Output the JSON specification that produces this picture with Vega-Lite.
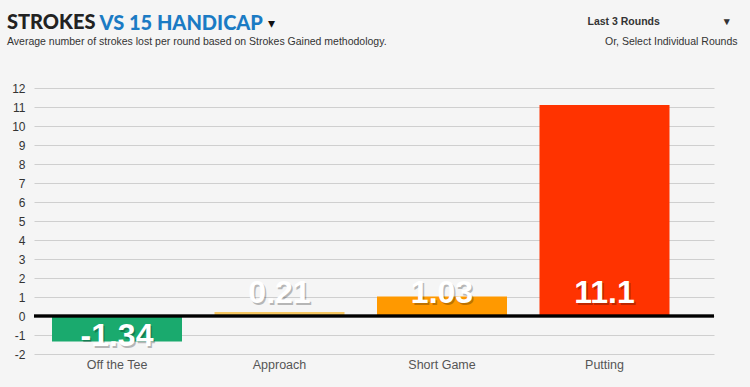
{
  "$schema": "https://vega.github.io/schema/vega-lite/v6.json",
  "width": 680,
  "height": 266,
  "autosize": {"type": "none"},
  "padding": {"left": 34, "top": 88, "right": 36, "bottom": 33},
  "background": "#f5f5f5",
  "config": {
    "view": {"stroke": null},
    "font": "Liberation Sans"
  },
  "title": {
    "text": "STROKES",
    "subtitle": "Average number of strokes lost per round based on Strokes Gained methodology.",
    "anchor": "start",
    "frame": "group",
    "dx": -27,
    "dy": 34,
    "font": "Lato",
    "fontSize": 20,
    "fontWeight": 900,
    "color": "#222222",
    "subtitleFont": "Liberation Sans",
    "subtitleFontSize": 10.5,
    "subtitleColor": "#333333",
    "subtitlePadding": 4,
    "offset": 0
  },
  "data": {
    "values": [
      {"category": "Off the Tee", "value": -1.34, "label": "-1.34"},
      {"category": "Approach", "value": 0.21, "label": "0.21"},
      {"category": "Short Game", "value": 1.03, "label": "1.03"},
      {"category": "Putting", "value": 11.1, "label": "11.1"}
    ]
  },
  "layer": [
    {
      "mark": {"type": "bar"},
      "encoding": {
        "x": {
          "field": "category",
          "type": "nominal",
          "sort": null,
          "scale": {"paddingInner": 0.2, "paddingOuter": 0.1923, "align": 0.288},
          "axis": {
            "orient": "bottom",
            "labelAngle": 0,
            "labelFont": "Liberation Sans",
            "labelFontSize": 12.5,
            "labelColor": "#555555",
            "labelPadding": 4,
            "ticks": false,
            "domain": false,
            "title": "Or, Select Individual Rounds",
            "titleFont": "Liberation Sans",
            "titleFontSize": 10.5,
            "titleFontWeight": "normal",
            "titleColor": "#333333",
            "titleAngle": 0,
            "titleAlign": "right",
            "titleBaseline": "alphabetic",
            "titleX": 703,
            "titleY": -310
          }
        },
        "y": {
          "field": "value",
          "type": "quantitative",
          "scale": {"domain": [-2, 12], "nice": false, "zero": false},
          "axis": {
            "orient": "left",
            "values": [-2, -1, 0, 1, 2, 3, 4, 5, 6, 7, 8, 9, 10, 11, 12],
            "labelExpr": "replace(datum.label, '\u2212', '-')",
            "labelFont": "Liberation Sans",
            "labelFontSize": 12,
            "labelColor": "#333333",
            "labelPadding": 9,
            "ticks": false,
            "domain": false,
            "grid": true,
            "gridColor": "#cfcfcf",
            "gridWidth": 1,
            "title": "VS 15 HANDICAP",
            "titleFont": "Lato",
            "titleFontSize": 20,
            "titleFontWeight": 900,
            "titleColor": "#1b7bc4",
            "titleAngle": 0,
            "titleAlign": "left",
            "titleBaseline": "alphabetic",
            "titleX": 65,
            "titleY": -59
          }
        },
        "color": {
          "field": "category",
          "type": "nominal",
          "scale": {
            "domain": ["Off the Tee", "Approach", "Short Game", "Putting"],
            "range": ["#1aaa6e", "#f7c862", "#ff9900", "#ff3300"]
          },
          "legend": null
        }
      }
    },
    {
      "mark": {"type": "rule", "color": "#000000", "strokeWidth": 2.5},
      "encoding": {
        "y": {"datum": 0, "type": "quantitative", "axis": null}
      }
    },
    {
      "transform": [{"filter": "datum.value >= 0"}],
      "mark": {"type": "text", "font": "Liberation Sans", "fontSize": 32, "fontWeight": "bold", "fill": "#000000", "opacity": 0.25, "baseline": "alphabetic", "dy": -11, "dx": 1.5},
      "encoding": {
        "x": {"field": "category", "type": "nominal", "sort": null, "axis": null},
        "y": {"datum": 0, "type": "quantitative", "axis": null},
        "text": {"field": "label"}
      }
    },
    {
      "transform": [{"filter": "datum.value < 0"}],
      "mark": {"type": "text", "font": "Liberation Sans", "fontSize": 32, "fontWeight": "bold", "fill": "#000000", "opacity": 0.25, "baseline": "top", "dy": 7, "dx": 1.5},
      "encoding": {
        "x": {"field": "category", "type": "nominal", "sort": null, "axis": null},
        "y": {"datum": 0, "type": "quantitative", "axis": null},
        "text": {"field": "label"}
      }
    },
    {
      "transform": [{"filter": "datum.value >= 0"}],
      "mark": {"type": "text", "font": "Liberation Sans", "fontSize": 32, "fontWeight": "bold", "fill": "#ffffff", "baseline": "alphabetic", "dy": -13},
      "encoding": {
        "x": {
          "field": "category",
          "type": "nominal",
          "sort": null,
          "axis": {
            "orient": "top",
            "labels": false,
            "ticks": false,
            "domain": false,
            "grid": false,
            "title": "Last 3 Rounds\u00a0\u00a0\u00a0\u00a0\u00a0\u00a0\u00a0\u00a0\u00a0\u00a0\u00a0\u00a0\u00a0\u00a0\u00a0\u00a0\u00a0\u00a0\u00a0\u00a0\u00a0\u00a0▾",
            "titleFont": "Liberation Sans",
            "titleFontSize": 10.5,
            "titleFontWeight": "bold",
            "titleColor": "#333333",
            "titleAngle": 0,
            "titleAlign": "left",
            "titleBaseline": "alphabetic",
            "titleX": 553,
            "titleY": -64
          }
        },
        "y": {
          "datum": 0,
          "type": "quantitative",
          "axis": {
            "orient": "right",
            "labels": false,
            "ticks": false,
            "domain": false,
            "grid": false,
            "title": "▾",
            "titleFont": "DejaVu Sans",
            "titleFontSize": 14,
            "titleFontWeight": "normal",
            "titleColor": "#111111",
            "titleAngle": 0,
            "titleAlign": "center",
            "titleBaseline": "middle",
            "titleX": -443,
            "titleY": -65
          }
        },
        "text": {"field": "label"}
      }
    },
    {
      "transform": [{"filter": "datum.value < 0"}],
      "mark": {"type": "text", "font": "Liberation Sans", "fontSize": 32, "fontWeight": "bold", "fill": "#ffffff", "baseline": "top", "dy": 5},
      "encoding": {
        "x": {"field": "category", "type": "nominal", "sort": null, "axis": null},
        "y": {"datum": 0, "type": "quantitative", "axis": null},
        "text": {"field": "label"}
      }
    }
  ],
  "resolve": {"axis": {"x": "independent", "y": "independent"}}
}
